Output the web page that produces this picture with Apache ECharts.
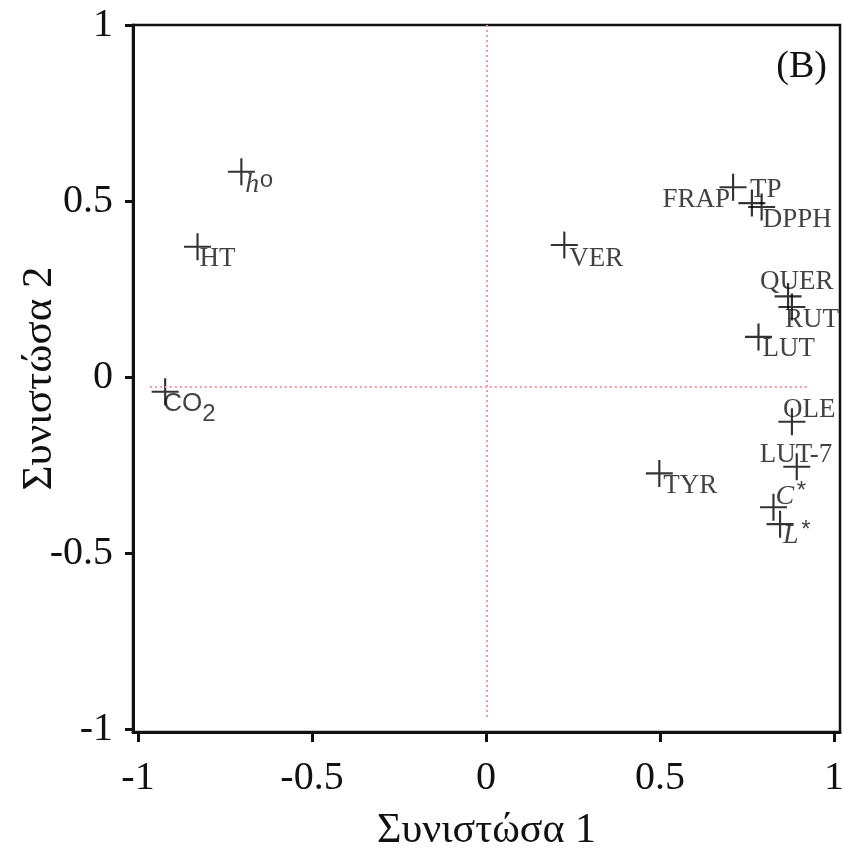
<!DOCTYPE html>
<html><head><meta charset="utf-8">
<script src="https://cdn.jsdelivr.net/npm/echarts@6/dist/echarts.min.js"></script>
<style>html,body{margin:0;padding:0;background:#fff}#c{width:843px;height:849px}</style>
</head><body><div id="c"></div>
<script>
// Data (component loadings)
const names = ['h°','HT','CO2','VER','FRAP','TP','DPPH','QUER','RUT','LUT','OLE','LUT-7','TYR','C*','L*'];
const comp1 = [-0.703,-0.829,-0.922,0.225,0.710,0.764,0.792,0.868,0.879,0.783,0.879,0.893,0.498,0.826,0.845];
const comp2 = [0.583,0.370,-0.042,0.375,0.539,0.494,0.483,0.229,0.199,0.114,-0.127,-0.255,-0.274,-0.370,-0.418];
const xTicks = [-1,-0.5,0,0.5,1];
const yTicks = [-1,-0.5,0,0.5,1];
const hRefLine = [[-0.966,-0.028],[0.931,-0.028]];
const vRefLine = [[0.003,1.0],[0.003,-0.974]];
const panelTag = '(B)';
const xTitle = 'Συνιστώσα 1';
const yTitle = 'Συνιστώσα 2';

// label layout (offset from marker centre)
const place = {
  'h°':   {dx:4,  dy:12, align:'left', fmt:'{it|h}{sup|o}'},
  'HT':   {dx:2,  dy:12, align:'left'},
  'CO2':  {dx:-2, dy:12, align:'left', fmt:'{sans|CO}{sub|2}'},
  'VER':  {dx:5,  dy:14, align:'left'},
  'FRAP': {dx:-3, dy:13, align:'right'},
  'TP':   {dx:-2, dy:-13, align:'left'},
  'DPPH': {dx:1,  dy:13, align:'left'},
  'QUER': {dx:-28,dy:-14, align:'left'},
  'RUT':  {dx:-7, dy:13, align:'left'},
  'LUT':  {dx:4,  dy:12, align:'left'},
  'OLE':  {dx:-9, dy:-12, align:'left'},
  'LUT-7':{dx:-37,dy:-12, align:'left'},
  'TYR':  {dx:4,  dy:12, align:'left'},
  'C*':   {dx:2,  dy:-12, align:'left', fmt:'{it|C}{sup|*}'},
  'L*':   {dx:3,  dy:10, align:'left', fmt:'{it|L}{sup|*}'}
};

const rich = {
  it:  {fontFamily:'Liberation Serif', fontStyle:'italic', fontSize:28, color:'#111', verticalAlign:'bottom', lineHeight:30},
  sup: {fontFamily:'Liberation Mono', fontSize:24, color:'#111', verticalAlign:'top', lineHeight:30, padding:[0,0,10,0]},
  sans:{fontFamily:'Liberation Sans', fontSize:26, color:'#111', lineHeight:30},
  sub: {fontFamily:'Liberation Sans', fontSize:24, color:'#111', padding:[22,0,0,0], lineHeight:30}
};

const pts = names.map((n,i)=>{
  const p = place[n];
  return {
    name:n, value:[comp1[i], comp2[i]],
    label:{show:true, position:'inside', align:p.align, verticalAlign:'middle',
      offset:[p.dx,p.dy], formatter: p.fmt || n, rich: rich}
  };
});

const chart = echarts.init(document.getElementById('c'), null, {renderer:'canvas'});
const serif = 'Liberation Serif';
chart.setOption({
  animation:false,
  backgroundColor:'#fff',
  title:{text:panelTag, right:16, top:48, padding:0,
    textStyle:{fontFamily:serif, fontSize:38, fontWeight:'normal', color:'#111'}},
  grid:{left:133, right:3, top:25, bottom:117, containLabel:false, outerBoundsMode:'none',
    show:true, borderColor:'#111', borderWidth:2.5},
  xAxis:{type:'value', min:-1.0144, max:1.0172,
    name:xTitle, nameLocation:'middle', nameGap:78, nameMoveOverlap:false,
    nameTextStyle:{fontFamily:serif, fontSize:42, color:'#111'},
    axisLine:{show:true, onZero:false, lineStyle:{color:'#111', width:3}},
    axisTick:{show:true, length:10, customValues:xTicks, lineStyle:{color:'#111', width:3}},
    axisLabel:{customValues:xTicks, margin:26, fontFamily:serif, fontSize:40, color:'#111'},
    splitLine:{show:false}},
  yAxis:{type:'value', min:-1.0085, max:1.0,
    name:yTitle, nameLocation:'middle', nameGap:72, nameMoveOverlap:false,
    nameTextStyle:{fontFamily:serif, fontSize:43, color:'#111'},
    axisLine:{show:true, onZero:false, lineStyle:{color:'#111', width:3}},
    axisTick:{show:true, length:8, customValues:yTicks, lineStyle:{color:'#111', width:3}},
    axisLabel:{customValues:yTicks, margin:20, fontFamily:serif, fontSize:40, color:'#111'},
    splitLine:{show:false}},
  series:[{
    type:'scatter',
    symbol:'path://M0,9.2H20V10.8H0Z M9.2,0H10.8V20H9.2Z',
    symbolSize:27,
    itemStyle:{color:'#000'},
    label:{fontFamily:'Liberation Serif', fontSize:27, color:'#111'},
    emphasis:{disabled:true},
    silent:true,
    data:pts,
    markLine:{silent:true, symbol:'none', label:{show:false},
      lineStyle:{type:[2,3], color:'#f39aa6', width:2},
      data:[
        [{coord:hRefLine[0]},{coord:hRefLine[1]}],
        [{coord:vRefLine[0]},{coord:vRefLine[1]}]
      ]},
    z:3
  }]
});
</script>
</body></html>
